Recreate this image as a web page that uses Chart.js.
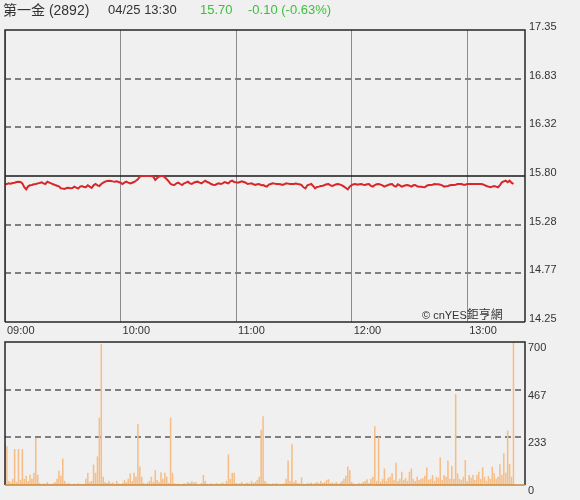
<!DOCTYPE html>
<html>
<head>
<meta charset="utf-8">
<script src="https://cdn.jsdelivr.net/npm/chart.js@4/dist/chart.umd.min.js"></script>
<style>
  html, body { margin:0; padding:0; background:#f0f0f0; width:580px; height:500px; overflow:hidden; }
  body { position:relative; font-family:"Liberation Sans", Arial, sans-serif; }
  .hdr { position:absolute; top:1px; white-space:nowrap; color:#333; font-size:13px; line-height:18px; z-index:2; }
  .name { font-size:14px; font-family:"Liberation Sans", "Noto Sans CJK TC", sans-serif; }
  .green { color:#3cbf3c; }
  #wm { position:absolute; left:422px; top:306px; color:#333; font-size:11px; line-height:16px; white-space:nowrap; z-index:2; }
  #wm .cjk { font-family:"Noto Sans CJK TC", sans-serif; font-size:12px; }
  canvas { position:absolute; left:0; z-index:1; }
</style>
</head>
<body>
<div class="hdr name" style="left:3px;">第一金 (2892)</div>
<div class="hdr" style="left:108px;">04/25 13:30</div>
<div class="hdr green" style="left:200px;">15.70</div>
<div class="hdr green" style="left:248px;">-0.10 (-0.63%)</div>
<canvas id="pc" width="580" height="325" style="top:15px;"></canvas>
<canvas id="vc" width="580" height="160" style="top:340px;"></canvas>
<div id="wm">© cnYES<span class="cjk">鉅亨網</span></div>
<script>
// ---- data ----
const timeTicks = [0, 60, 120, 180, 240];          // minutes after 09:00
const timeLabels = ['09:00', '10:00', '11:00', '12:00', '13:00'];
const sessionMinutes = 270;                          // 09:00 - 13:30
const priceTicks = [14.25, 14.77, 15.28, 15.80, 16.32, 16.83, 17.35];
const prevClose = 15.80;
const volumeTicks = [0, 233, 467, 700];

const prices = [
15.715,15.715,15.722,15.719,15.726,15.729,15.736,15.740,15.736,15.722,
15.680,15.658,15.690,15.701,15.704,15.712,15.715,15.722,15.726,15.733,
15.722,15.715,15.740,15.729,15.722,15.712,15.704,15.697,15.690,15.669,
15.666,15.662,15.673,15.676,15.669,15.673,15.687,15.676,15.666,15.687,
15.694,15.683,15.680,15.701,15.687,15.673,15.701,15.715,15.701,15.694,
15.715,15.729,15.740,15.747,15.750,15.747,15.743,15.740,15.743,15.736,
15.729,15.715,15.729,15.740,15.729,15.722,15.729,15.736,15.750,15.765,
15.793,15.800,15.800,15.800,15.800,15.800,15.800,15.793,15.758,15.779,
15.793,15.800,15.800,15.786,15.765,15.743,15.715,15.708,15.704,15.722,
15.729,15.715,15.704,15.722,15.729,15.740,15.722,15.715,15.729,15.736,
15.740,15.729,15.722,15.736,15.750,15.736,15.729,15.715,15.708,15.704,
15.715,15.722,15.715,15.722,15.736,15.729,15.722,15.743,15.750,15.736,
15.733,15.729,15.736,15.743,15.736,15.729,15.715,15.719,15.722,15.712,
15.704,15.712,15.715,15.701,15.704,15.694,15.687,15.708,15.715,15.722,
15.719,15.715,15.715,15.712,15.704,15.712,15.722,15.719,15.715,15.715,
15.715,15.719,15.715,15.712,15.704,15.680,15.669,15.701,15.708,15.715,
15.694,15.669,15.683,15.687,15.694,15.697,15.704,15.712,15.715,15.701,
15.694,15.704,15.712,15.715,15.708,15.701,15.687,15.673,15.658,15.687,
15.704,15.712,15.715,15.708,15.712,15.715,15.708,15.704,15.712,15.715,
15.694,15.687,15.704,15.712,15.715,15.708,15.701,15.687,15.697,15.704,
15.712,15.715,15.694,15.687,15.712,15.701,15.687,15.694,15.701,15.704,
15.697,15.687,15.701,15.704,15.690,15.687,15.687,15.683,15.680,15.697,
15.704,15.704,15.708,15.715,15.712,15.712,15.708,15.701,15.687,15.690,
15.694,15.701,15.704,15.704,15.708,15.715,15.715,15.715,15.708,15.708,
15.715,15.715,15.715,15.715,15.715,15.715,15.715,15.715,15.712,15.704,
15.694,15.687,15.680,15.687,15.694,15.687,15.680,15.704,15.733,15.743,
15.750,15.733,15.750,15.729,15.715
];

const volumes = [
210,190,20,12,30,176,15,176,25,176,
30,45,20,50,30,60,230,50,10,5,
8,6,15,5,4,8,15,30,70,45,
130,20,6,10,5,4,6,5,8,4,
5,6,30,60,15,20,100,60,140,330,
690,40,15,10,20,8,12,6,20,8,
5,10,25,15,30,57,20,60,40,298,
90,40,10,6,12,20,40,15,73,25,
15,62,30,60,40,10,330,60,8,5,
6,4,5,8,6,15,10,18,12,15,
6,5,10,49,20,6,5,8,4,6,
10,5,8,12,6,20,150,30,60,60,
10,6,8,15,5,10,12,8,20,10,
15,25,40,270,337,20,10,6,5,8,
6,10,4,6,5,8,30,120,20,200,
15,25,10,8,37,6,5,10,8,12,
6,10,15,8,20,10,15,25,28,10,
12,8,15,6,10,20,30,45,90,73,
15,8,5,6,10,8,15,20,28,10,
30,40,288,20,236,15,30,81,20,35,
40,57,25,109,20,30,65,25,35,20,
65,81,30,20,40,25,30,33,45,86,
25,30,49,20,40,35,135,25,49,40,
119,30,93,30,445,57,30,25,40,122,
20,49,35,49,25,49,65,30,86,40,
20,44,30,90,57,30,40,101,50,155,
60,266,103,40,700
];

// ---- helpers ----
const FONT = { family: '"Liberation Sans", Arial, sans-serif', size: 11 };
const AXIS_W = 55;

function dashedLinesPlugin(id, tickVals, solidVal) {
  return {
    id,
    beforeDatasetsDraw(chart) {
      const { ctx, chartArea: a, scales } = chart;
      const y = scales.y;
      ctx.save();
      tickVals.forEach(v => {
        if (v === y.min || v === y.max) return;
        const py = Math.round(y.getPixelForValue(v));
        ctx.beginPath();
        if (solidVal !== null && v === solidVal) {
          ctx.setLineDash([]);
          ctx.strokeStyle = '#1a1a1a';
          ctx.lineWidth = 1.5;
        } else {
          ctx.setLineDash([6, 4]);
          ctx.strokeStyle = '#7f7f7f';
          ctx.lineWidth = 2;
        }
        ctx.moveTo(a.left, py);
        ctx.lineTo(a.right, py);
        ctx.stroke();
      });
      ctx.restore();
    }
  };
}

function framePlugin(id, bottomColor) {
  return {
    id,
    afterDatasetsDraw(chart) {
      const { ctx, chartArea: a } = chart;
      ctx.save();
      ctx.setLineDash([]);
      ctx.lineWidth = 1.5;
      ctx.strokeStyle = '#262626';
      ctx.beginPath();
      ctx.moveTo(a.left, a.bottom);
      ctx.lineTo(a.left, a.top);
      ctx.lineTo(a.right, a.top);
      ctx.lineTo(a.right, a.bottom);
      ctx.stroke();
      ctx.strokeStyle = bottomColor;
      ctx.beginPath();
      ctx.moveTo(a.left, a.bottom);
      ctx.lineTo(a.right, a.bottom);
      ctx.stroke();
      ctx.restore();
    }
  };
}

function fitY(s) {
  s.width = AXIS_W;
  s.paddingTop = 0;
  s.paddingBottom = 0;
}

// ---- price chart ----
new Chart(document.getElementById('pc'), {
  type: 'line',
  data: {
    datasets: [{
      data: prices.map((p, i) => ({ x: i, y: p })),
      borderColor: '#d9262a',
      borderWidth: 2,
      pointRadius: 0,
      tension: 0,
      fill: false
    }]
  },
  options: {
    responsive: false,
    animation: false,
    events: [],
    layout: { padding: { left: 5, top: 15, right: 0, bottom: 0 } },
    plugins: { legend: { display: false }, tooltip: { enabled: false } },
    scales: {
      x: {
        type: 'linear',
        min: 0,
        max: sessionMinutes,
        afterBuildTicks: s => { s.ticks = timeTicks.map(v => ({ value: v })); },
        afterFit: s => { s.height = 18; s.paddingLeft = 0; s.paddingRight = 0; },
        grid: { color: '#8c8c8c', lineWidth: 1, drawTicks: false },
        border: { display: false },
        ticks: {
          align: 'start',
          labelOffset: 2,
          padding: 2,
          maxRotation: 0,
          autoSkip: false,
          color: '#333',
          font: FONT,
          callback: (v, i) => timeLabels[i]
        }
      },
      y: {
        position: 'right',
        min: priceTicks[0],
        max: priceTicks[priceTicks.length - 1],
        afterBuildTicks: s => { s.ticks = priceTicks.map(v => ({ value: v })); },
        afterFit: fitY,
        grid: { display: false, drawTicks: false },
        border: { display: false },
        ticks: {
          padding: 4,
          labelOffset: -3,
          color: '#333',
          font: FONT,
          callback: v => Number(v).toFixed(2)
        }
      }
    }
  },
  plugins: [dashedLinesPlugin('priceLines', priceTicks, prevClose), framePlugin('priceFrame', '#262626')]
});

// ---- volume chart ----
new Chart(document.getElementById('vc'), {
  type: 'bar',
  data: {
    datasets: [{
      data: volumes.map((v, i) => ({ x: i, y: v })),
      backgroundColor: '#f6bd86',
      borderWidth: 0,
      barPercentage: 0.8,
      categoryPercentage: 1.0
    }]
  },
  options: {
    responsive: false,
    animation: false,
    events: [],
    layout: { padding: { left: 5, top: 2, right: 0, bottom: 15 } },
    plugins: { legend: { display: false }, tooltip: { enabled: false } },
    scales: {
      x: {
        type: 'linear',
        min: 0,
        max: sessionMinutes,
        display: false,
        offset: false
      },
      y: {
        position: 'right',
        min: volumeTicks[0],
        max: volumeTicks[volumeTicks.length - 1],
        afterBuildTicks: s => { s.ticks = volumeTicks.map(v => ({ value: v })); },
        afterFit: fitY,
        grid: { display: false, drawTicks: false },
        border: { display: false },
        ticks: {
          padding: 3,
          labelOffset: 6,
          color: '#333',
          font: FONT,
          callback: v => String(v)
        }
      }
    }
  },
  plugins: [dashedLinesPlugin('volLines', volumeTicks, null), framePlugin('volFrame', '#c98a3a')]
});
</script>
</body>
</html>
